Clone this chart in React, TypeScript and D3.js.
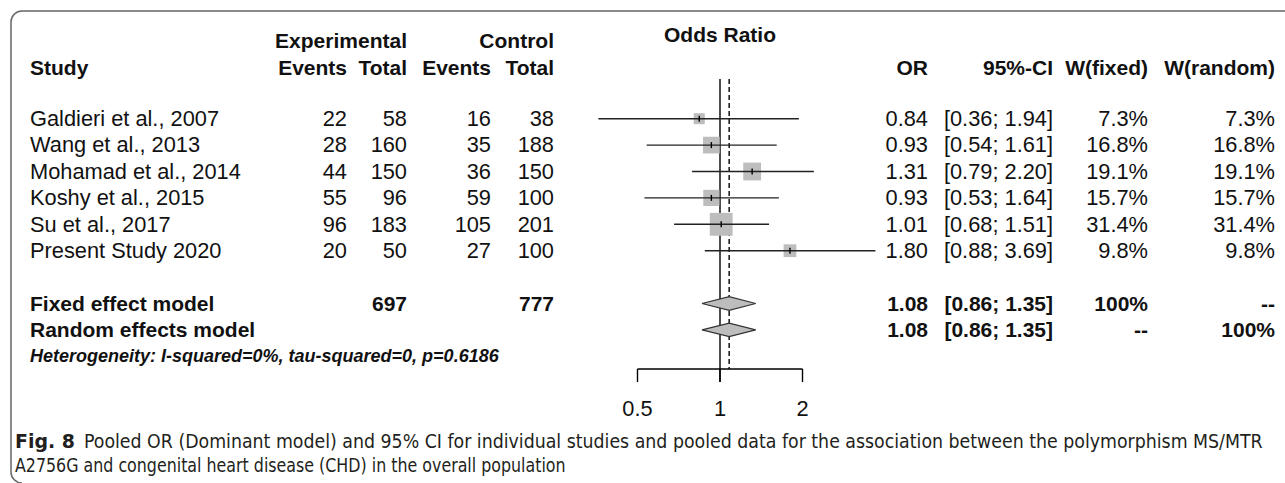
import React, { useLayoutEffect, useRef, useState } from "react";
import * as d3 from "d3";

// Study-level data
const studies = [
  "Galdieri et al., 2007",
  "Wang et al., 2013",
  "Mohamad et al., 2014",
  "Koshy et al., 2015",
  "Su et al., 2017",
  "Present Study 2020",
];
const expEvents = [22, 28, 44, 55, 96, 20];
const expTotal = [58, 160, 150, 96, 183, 50];
const ctrlEvents = [16, 35, 36, 59, 105, 27];
const ctrlTotal = [38, 188, 150, 100, 201, 100];
const oddsRatio = [0.84, 0.93, 1.31, 0.93, 1.01, 1.8];
const ciLower = [0.36, 0.54, 0.79, 0.53, 0.68, 0.88];
const ciUpper = [1.94, 1.61, 2.2, 1.64, 1.51, 3.69];
const weightFixed = [7.3, 16.8, 19.1, 15.7, 31.4, 9.8];
const weightRandom = [7.3, 16.8, 19.1, 15.7, 31.4, 9.8];

// Pooled estimates
const pooledLabels = ["Fixed effect model", "Random effects model"];
const pooledOR = [1.08, 1.08];
const pooledLower = [0.86, 0.86];
const pooledUpper = [1.35, 1.35];
const pooledExpTotal = ["697", ""];
const pooledCtrlTotal = ["777", ""];
const pooledWFixed = ["100%", "--"];
const pooledWRandom = ["--", "100%"];

const axisTicks = [0.5, 1, 2];
const heterogeneity = "Heterogeneity: I-squared=0%, tau-squared=0, p=0.6186";
const captionLine1 =
  "Pooled OR (Dominant model) and 95% CI for individual studies and pooled data for the association between the polymorphism MS/MTR";
const captionLine2 =
  "A2756G and congenital heart disease (CHD) in the overall population";

const W = 1285;
const H = 483;
const FONT = "'Liberation Sans', Arial, Helvetica, sans-serif";
const CAPTION_FONT = "'DejaVu Sans Condensed', 'Liberation Sans Narrow', sans-serif";
const FS = 21.8;
const FS_BOLD = 21;

const fmt2 = (v: number) => v.toFixed(2);
const fmtPct = (v: number) => `${v.toFixed(1)}%`;

// Text squeezed horizontally so that it spans exactly `width` pixels.
function FitText({ x, y, width, children, ...rest }: any) {
  const ref = useRef<SVGTextElement>(null);
  const [k, setK] = useState(1);
  useLayoutEffect(() => {
    if (ref.current) {
      const natural = ref.current.getComputedTextLength();
      if (natural > 0) setK(width / natural);
    }
  }, [width, children]);
  return (
    <text ref={ref} x={0} y={0} transform={`translate(${x},${y}) scale(${k},1)`} {...rest}>
      {children}
    </text>
  );
}

export default function App() {
  const x = d3.scaleLog().domain([0.5, 2]).range([637.5, 802.5]);
  const row = d3.scaleLinear().domain([0, 1]).range([118.7, 145.1]);
  const box = d3.scaleSqrt().domain([0, 1]).range([0, 4.07]);

  const col = { study: 30, expE: 347, expT: 407, ctlE: 491, ctlT: 554, or: 928, ci: 1053, wf: 1148, wr: 1275 };
  const base = 7.3;
  const pooledRow = [7, 8];
  const summary = pooledOR[0];
  const axisY = 369;

  const txt = (props: any, s: string) => (
    <text
      fontFamily={FONT}
      fontSize={props.fontWeight === "bold" ? FS_BOLD : FS}
      fill="#111"
      {...props}
    >
      {s}
    </text>
  );
  const b = (props: any, s: string) => txt({ ...props, fontWeight: "bold" }, s);

  return (
    <svg width={W} height={H} style={{ position: "absolute", left: 0, top: 0, background: "#fff" }}>
      {/* frame */}
      <path
        d={`M${W + 5},11 H22 A11,11 0 0 0 11,22 V472 A11,11 0 0 0 22,483`}
        fill="none"
        stroke="#666"
        strokeWidth={1.5}
      />

      {/* headers */}
      {b({ x: col.expT, y: 48, textAnchor: "end" }, "Experimental")}
      {b({ x: col.ctlT, y: 48, textAnchor: "end" }, "Control")}
      {b({ x: x(1), y: 42, textAnchor: "middle" }, "Odds Ratio")}
      {b({ x: col.study, y: 75 }, "Study")}
      {b({ x: col.expE, y: 75, textAnchor: "end" }, "Events")}
      {b({ x: col.expT, y: 75, textAnchor: "end" }, "Total")}
      {b({ x: col.ctlE, y: 75, textAnchor: "end" }, "Events")}
      {b({ x: col.ctlT, y: 75, textAnchor: "end" }, "Total")}
      {b({ x: col.or, y: 75, textAnchor: "end" }, "OR")}
      {b({ x: col.ci, y: 75, textAnchor: "end" }, "95%-CI")}
      {b({ x: col.wf, y: 75, textAnchor: "end" }, "W(fixed)")}
      {b({ x: col.wr, y: 75, textAnchor: "end" }, "W(random)")}

      {/* study rows */}
      {studies.map((s, i) => {
        const y = row(i) + base;
        return (
          <g key={s}>
            {txt({ x: col.study, y }, s)}
            {txt({ x: col.expE, y, textAnchor: "end" }, String(expEvents[i]))}
            {txt({ x: col.expT, y, textAnchor: "end" }, String(expTotal[i]))}
            {txt({ x: col.ctlE, y, textAnchor: "end" }, String(ctrlEvents[i]))}
            {txt({ x: col.ctlT, y, textAnchor: "end" }, String(ctrlTotal[i]))}
            {txt({ x: col.or, y, textAnchor: "end" }, fmt2(oddsRatio[i]))}
            {txt({ x: col.ci, y, textAnchor: "end" }, `[${fmt2(ciLower[i])}; ${fmt2(ciUpper[i])}]`)}
            {txt({ x: col.wf, y, textAnchor: "end" }, fmtPct(weightFixed[i]))}
            {txt({ x: col.wr, y, textAnchor: "end" }, fmtPct(weightRandom[i]))}
          </g>
        );
      })}

      {/* pooled rows */}
      {pooledLabels.map((s, k) => {
        const y = row(pooledRow[k]) + base;
        return (
          <g key={s}>
            {b({ x: col.study, y }, s)}
            {b({ x: col.expT, y, textAnchor: "end" }, pooledExpTotal[k])}
            {b({ x: col.ctlT, y, textAnchor: "end" }, pooledCtrlTotal[k])}
            {b({ x: col.or, y, textAnchor: "end" }, fmt2(pooledOR[k]))}
            {b({ x: col.ci, y, textAnchor: "end" }, `[${fmt2(pooledLower[k])}; ${fmt2(pooledUpper[k])}]`)}
            {b({ x: col.wf, y, textAnchor: "end" }, pooledWFixed[k])}
            {b({ x: col.wr, y, textAnchor: "end" }, pooledWRandom[k])}
          </g>
        );
      })}

      <text
        x={col.study}
        y={row(9) + 6}
        fontFamily={FONT}
        fontSize={18}
        fontWeight="bold"
        fontStyle="italic"
        fill="#111"
      >
        {heterogeneity}
      </text>

      {/* reference lines */}
      <line x1={x(1)} x2={x(1)} y1={79} y2={382} stroke="#000" strokeWidth={1.4} />
      <line
        x1={x(summary)}
        x2={x(summary)}
        y1={79}
        y2={axisY}
        stroke="#000"
        strokeWidth={1.4}
        strokeDasharray="5,3"
      />

      {/* study CIs and boxes */}
      {studies.map((s, i) => {
        const y = row(i);
        const side = box(weightFixed[i]);
        return (
          <g key={`m${i}`}>
            <rect
              x={x(oddsRatio[i]) - side / 2}
              y={y - side / 2}
              width={side}
              height={side}
              fill="#bdbdbd"
            />
            <line x1={x(ciLower[i])} x2={x(ciUpper[i])} y1={y} y2={y} stroke="#222" strokeWidth={1.4} />
            <line x1={x(oddsRatio[i])} x2={x(oddsRatio[i])} y1={y - 3} y2={y + 3} stroke="#000" strokeWidth={1.4} />
          </g>
        );
      })}

      {/* pooled diamonds */}
      {pooledLabels.map((s, k) => {
        const y = row(pooledRow[k]);
        const h = 6.8;
        const d = `M${x(pooledLower[k])},${y} L${x(pooledOR[k])},${y - h} L${x(pooledUpper[k])},${y} L${x(pooledOR[k])},${y + h} Z`;
        return <path key={`d${k}`} d={d} fill="#bdbdbd" stroke="#333" strokeWidth={1.2} />;
      })}

      {/* axis */}
      <line x1={x(0.5)} x2={x(2)} y1={axisY} y2={axisY} stroke="#000" strokeWidth={1.4} />
      {axisTicks.map((t) => (
        <g key={t}>
          <line x1={x(t)} x2={x(t)} y1={axisY} y2={382} stroke="#000" strokeWidth={1.4} />
          {txt({ x: x(t), y: 416, textAnchor: "middle" }, String(t))}
        </g>
      ))}

      {/* caption */}
      <FitText x={15} y={448} width={60} fontFamily={CAPTION_FONT} fontSize={20} fontWeight="bold" fill="#231f20">
        Fig. 8
      </FitText>
      <FitText x={84} y={448} width={1179} fontFamily={CAPTION_FONT} fontSize={20} fill="#231f20">
        {captionLine1}
      </FitText>
      <FitText x={15} y={472} width={551} fontFamily={CAPTION_FONT} fontSize={20} fill="#231f20">
        {captionLine2}
      </FitText>
    </svg>
  );
}
